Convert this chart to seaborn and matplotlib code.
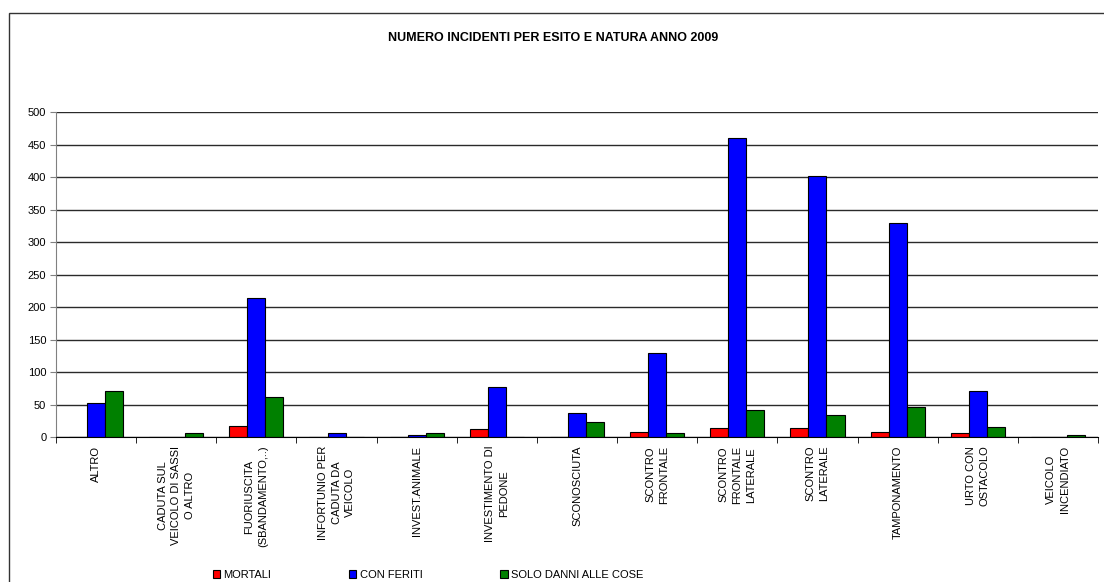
import seaborn as sns
import pandas as pd
import matplotlib.pyplot as plt
from matplotlib.patches import Rectangle
from matplotlib.ticker import FixedLocator

categories = [
    "ALTRO",
    "CADUTA SUL\nVEICOLO DI SASSI\nO ALTRO",
    "FUORIUSCITA\n(SBANDAMENTO,..)",
    "INFORTUNIO PER\nCADUTA DA\nVEICOLO",
    "INVEST.ANIMALE",
    "INVESTIMENTO DI\nPEDONE",
    "SCONOSCIUTA",
    "SCONTRO\nFRONTALE",
    "SCONTRO\nFRONTALE\nLATERALE",
    "SCONTRO\nLATERALE",
    "TAMPONAMENTO",
    "URTO CON\nOSTACOLO",
    "VEICOLO\nINCENDIATO",
]
mortali = [0, 0, 18, 0, 0, 13, 0, 8, 15, 15, 8, 6, 0]
con_feriti = [52, 1, 214, 7, 3, 78, 38, 130, 460, 402, 329, 71, 0]
solo_danni = [71, 7, 62, 0, 6, 0, 24, 7, 42, 35, 46, 16, 3]

series = ["MORTALI", "CON FERITI", "SOLO DANNI ALLE COSE"]
colors = ["#FF0000", "#0000FF", "#008000"]
y_ticks = list(range(0, 501, 50))

rows = []
for name, vals in zip(series, [mortali, con_feriti, solo_danni]):
    for cat, v in zip(categories, vals):
        rows.append({"Natura": cat, "Esito": name, "Numero": v})
df = pd.DataFrame(rows)

plt.rcParams["font.family"] = ["Liberation Sans", "DejaVu Sans"]

fig = plt.figure(figsize=(11.04, 5.82), dpi=100)
ax = fig.add_axes([56 / 1104, 1 - 437.3 / 582, 1042 / 1104, 325.3 / 582])

sns.barplot(data=df, x="Natura", y="Numero", hue="Esito", order=categories,
            hue_order=series, palette=colors, width=0.675, gap=0,
            edgecolor="black", linewidth=0.8, saturation=1, ax=ax, zorder=3)

ax.set_ylim(0, 500)
ax.set_xlim(-0.5, len(categories) - 0.5)
ax.set_yticks(y_ticks)
ax.yaxis.grid(True, color="#2a2a2a", linewidth=1.0, zorder=0)
ax.set_axisbelow(True)
ax.set_xlabel("")
ax.set_ylabel("")

ax.xaxis.set_minor_locator(FixedLocator([i - 0.5 for i in range(len(categories) + 1)]))
ax.tick_params(axis="x", which="major", length=0, pad=6, labelsize=8)
ax.tick_params(axis="x", which="minor", length=4, color="black", direction="out")
ax.tick_params(axis="y", length=4, color="#808080", pad=3, labelsize=8)
for lab in ax.get_xticklabels():
    lab.set_rotation(90)
    lab.set_multialignment("center")
    lab.set_linespacing(1.45)
    lab.set_verticalalignment("top")
    lab.set_horizontalalignment("center")

for s in ["top", "right"]:
    ax.spines[s].set_visible(False)
ax.spines["left"].set_color("#808080")
ax.spines["bottom"].set_color("black")
ax.spines["bottom"].set_zorder(4)

fig.text(553 / 1104, 1 - 38 / 582, "NUMERO INCIDENTI PER ESITO E NATURA ANNO 2009",
         ha="center", va="center", fontsize=9, fontweight="bold")

handles, labels = ax.get_legend_handles_labels()
ax.get_legend().remove()
fig.legend(handles, labels, loc="center left", bbox_to_anchor=(213 / 1104, 1 - 575 / 582),
           ncol=3, frameon=False, fontsize=8, handlelength=0.65, handleheight=0.65,
           handletextpad=0.3, columnspacing=7.0, borderpad=0, borderaxespad=0)

fig.patches.append(Rectangle((9 / 1104, -0.05), 1.05, 0.05 + 1 - 12.7 / 582,
                             transform=fig.transFigure, fill=False,
                             edgecolor="#333333", linewidth=1.0))

fig.savefig("out.png", dpi=100)
